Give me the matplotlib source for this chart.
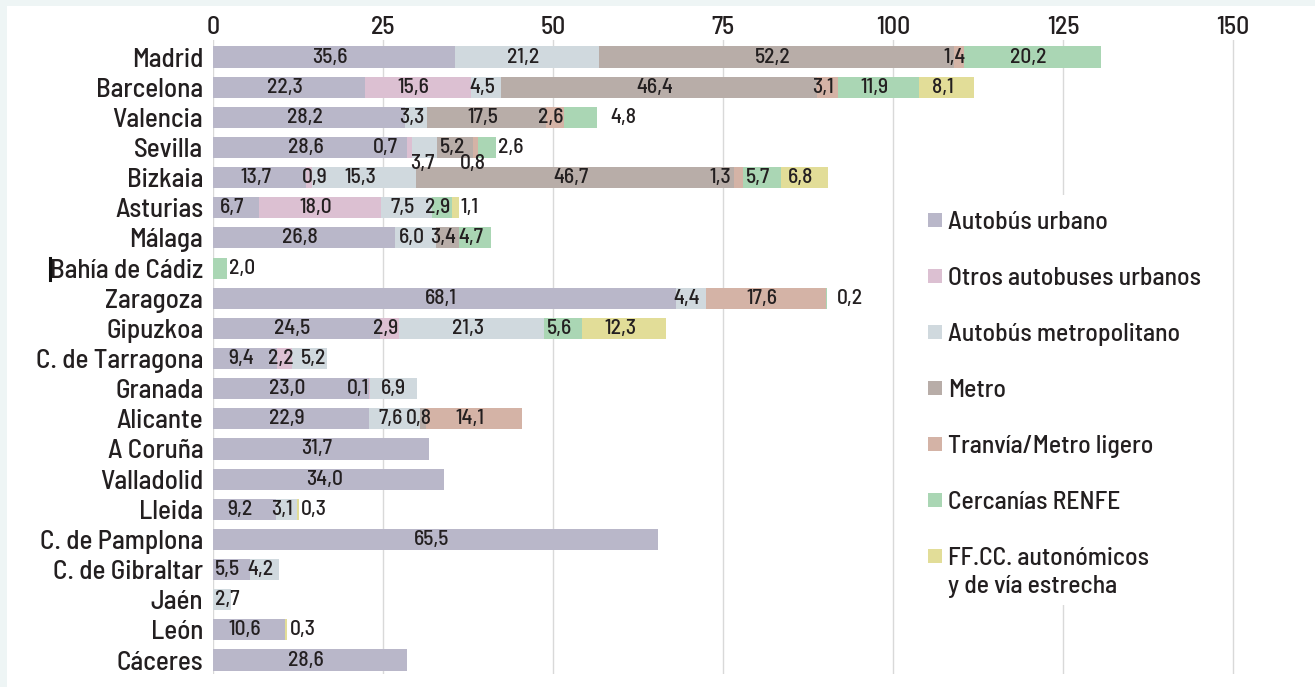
import matplotlib
matplotlib.use("Agg")
import matplotlib.pyplot as plt
from matplotlib.patches import Rectangle

plt.rcParams['font.family'] = ['Barlow Semi Condensed', 'Archivo Narrow', 'DejaVu Sans']
plt.rcParams['font.weight'] = 'medium'

# datos
ciudades = ["Madrid", "Barcelona", "Valencia", "Sevilla", "Bizkaia", "Asturias",
            "Málaga", "Bahía de Cádiz", "Zaragoza", "Gipuzkoa", "C. de Tarragona",
            "Granada", "Alicante", "A Coruña", "Valladolid", "Lleida",
            "C. de Pamplona", "C. de Gibraltar", "Jaén", "León", "Cáceres"]

modos = ["Autobús urbano", "Otros autobuses urbanos", "Autobús metropolitano",
         "Metro", "Tranvía/Metro ligero", "Cercanías RENFE",
         "FF.CC. autonómicos\ny de vía estrecha"]

autobus_urbano = [35.6, 22.3, 28.2, 28.6, 13.7, 6.7, 26.8, 0, 68.1, 24.5, 9.4,
                  23.0, 22.9, 31.7, 34.0, 9.2, 65.5, 5.5, 0, 10.6, 28.6]
otros_autobuses = [0, 15.6, 0, 0.7, 0.9, 18.0, 0, 0, 0, 2.9, 2.2,
                   0.1, 0, 0, 0, 0, 0, 0, 0, 0, 0]
autobus_metro = [21.2, 4.5, 3.3, 3.7, 15.3, 7.5, 6.0, 0, 4.4, 21.3, 5.2,
                 6.9, 7.6, 0, 0, 3.1, 0, 4.2, 2.7, 0, 0]
metro = [52.2, 46.4, 17.5, 5.2, 46.7, 0, 3.4, 0, 0, 0, 0,
         0, 0.8, 0, 0, 0, 0, 0, 0, 0, 0]
tranvia = [1.4, 3.1, 2.6, 0.8, 1.3, 0, 0, 0, 17.6, 0, 0,
           0, 14.1, 0, 0, 0, 0, 0, 0, 0, 0]
cercanias = [20.2, 11.9, 4.8, 2.6, 5.7, 2.9, 4.7, 2.0, 0.2, 5.6, 0,
             0, 0, 0, 0, 0, 0, 0, 0, 0, 0]
ffcc = [0, 8.1, 0, 0, 6.8, 1.1, 0, 0, 0, 12.3, 0,
        0, 0, 0, 0, 0.3, 0, 0, 0, 0.3, 0]

series = [autobus_urbano, otros_autobuses, autobus_metro, metro, tranvia, cercanias, ffcc]
colores = ["#b9b7c9", "#dcc0d2", "#d0d9de", "#b8ada8", "#d4b3a6", "#aad6b4", "#e2dd98"]
ticks = [0, 25, 50, 75, 100, 125, 150]

# etiquetas colocadas fuera de la barra (separacion en px), debajo o desplazadas
fuera = {("Valencia", 5): 14, ("Sevilla", 5): 2, ("Zaragoza", 5): 10,
         ("Asturias", 6): 1, ("Bahía de Cádiz", 5): 2, ("Lleida", 6): 2,
         ("León", 6): 3}
debajo = {("Sevilla", 2), ("Sevilla", 4)}
desplaz = {("Sevilla", 1): -24, ("Bizkaia", 4): -18, ("C. de Tarragona", 2): 4,
           ("Granada", 1): -12, ("Granada", 2): 0, ("Sevilla", 3): -3,
           ("Bizkaia", 1): 6, ("Jaén", 2): 5}

W, H = 1315, 687
texto = "#231f20"
fs_val = 15.5
fig = plt.figure(figsize=(W / 100, H / 100), dpi=100, facecolor="#eef5f5")
fig.patches.append(Rectangle((7 / W, 0), 1, 1 - 6 / H, transform=fig.transFigure,
                             facecolor="white", edgecolor="none", zorder=-10))

x0, px_unit = 213, 6.8
ax = fig.add_axes([x0 / W, 13 / H, 155 * px_unit / W, 634 / H])
ax.set_facecolor("none")

y = list(range(len(ciudades)))
left = [0] * len(ciudades)
for k, vals in enumerate(series):
    ax.barh(y, vals, left=left, height=0.70, color=colores[k], linewidth=0, zorder=2)
    for i, v in enumerate(vals):
        if v <= 0:
            continue
        lab = f"{v:.1f}".replace(".", ",")
        key = (ciudades[i], k)
        if key in fuera:
            ax.annotate(lab, (left[i] + v, i), xytext=(fuera[key] * 0.72, 0),
                        textcoords="offset points", ha="left", va="center",
                        fontsize=fs_val, color=texto, zorder=3)
        elif key in debajo:
            ax.annotate(lab, (left[i] + v / 2, i), xytext=(-3 * 0.72, -16 * 0.72),
                        textcoords="offset points", ha="center", va="center",
                        fontsize=fs_val, color=texto, zorder=3)
        else:
            dx = desplaz.get(key, -4)
            ax.annotate(lab, (left[i] + v / 2, i), xytext=(dx * 0.72, 0),
                        textcoords="offset points", ha="center", va="center",
                        fontsize=fs_val, color=texto, zorder=3)
        left[i] += v

ax.set_xlim(0, 155)
ax.set_ylim(20.464, -0.564)
ax.set_xticks(ticks)
ax.xaxis.tick_top()
ax.set_yticks(y)
ax.set_yticklabels(ciudades)
ax.tick_params(axis="x", length=0, pad=1, labelsize=18.5, labelcolor=texto)
ax.tick_params(axis="y", length=0, pad=7, labelsize=19.5, labelcolor=texto)
ax.grid(axis="x", color="#d9d9d9", linewidth=1, zorder=0)
ax.set_axisbelow(True)
for s in ax.spines.values():
    s.set_visible(False)

# cursor de texto que aparece junto a "Bahía de Cádiz" en el original
fig.add_artist(plt.Line2D([50.5 / W, 50.5 / W], [1 - 258 / H, 1 - 280 / H],
                          color="#111111", linewidth=2.2))

# leyenda manual
fig.patches.append(Rectangle((905 / W, 1 - 605 / H), 320 / W, 410 / H,
                             transform=fig.transFigure, facecolor="white",
                             edgecolor="none", zorder=5))
for k, nombre in enumerate(modos):
    yc = 220 + 56 * k
    fig.patches.append(Rectangle((928 / W, 1 - (yc + 7) / H), 14 / W, 14 / H,
                                 transform=fig.transFigure, facecolor=colores[k],
                                 edgecolor="none", zorder=6))
    for j, linea in enumerate(nombre.split("\n")):
        fig.text(948 / W, 1 - (yc + 28 * j) / H, linea, ha="left",
                 va="center_baseline", fontsize=18.5, color=texto, zorder=6)

fig.savefig("out.png", dpi=100, facecolor=fig.get_facecolor())
